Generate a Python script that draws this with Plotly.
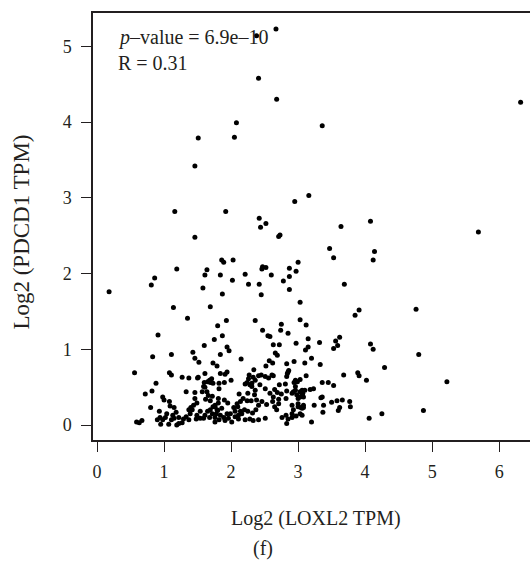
import plotly.graph_objects as go

# Log2 (LOXL2 TPM)
x_vals = [
    2.67, 2.38, 2.41, 2.68, 2.08, 3.36, 1.51, 2.05, 1.46, 6.32, 3.16, 2.95, 4.08, 3.64, 5.69, 3.47, 3.53, 4.14, 4.12, 3.00,
    2.97, 3.69, 3.03, 3.91, 3.85, 4.76, 3.03, 3.12, 3.62, 3.56, 3.53, 3.59, 3.15, 3.32, 2.97, 3.11, 3.15, 4.08, 4.12, 4.80,
    3.20, 3.10, 3.33, 4.29, 3.68, 3.89, 3.91, 3.12, 4.02, 5.22, 2.94, 2.99, 3.03, 3.36, 3.45, 3.53, 2.96, 2.93, 3.06, 3.07,
    3.08, 3.18, 3.23, 2.98, 3.03, 3.34, 3.36, 3.00, 3.04, 3.08, 3.24, 3.38, 3.50, 3.58, 3.66, 3.77, 3.62, 3.60, 3.78, 3.37,
    2.91, 2.97, 3.06, 3.20, 4.06, 4.25, 4.87,
    1.16, 1.92, 2.42, 2.44, 2.52, 1.46, 2.71, 2.73, 0.18, 0.81, 0.86, 1.19, 1.14, 1.58, 1.61, 1.64, 1.69, 1.84, 1.87, 1.86,
    1.89, 2.03, 2.02, 2.21, 2.26, 2.42, 2.45, 2.47, 2.46, 2.52, 2.60, 2.78, 2.87, 2.87, 2.87,
    1.35, 1.80, 1.93, 2.36, 2.47, 2.55, 2.74, 2.75, 2.85, 0.91, 1.87, 1.75,
    0.83, 1.11, 0.56, 1.43, 1.46, 1.52, 1.60, 1.08, 1.11, 1.27, 1.37, 1.50, 1.61, 1.73, 1.79, 1.73, 1.69, 0.88, 0.72, 0.82,
    1.33, 0.98, 1.00, 1.08, 1.46, 1.57, 1.59, 1.65, 0.80, 0.59, 0.63, 0.67, 0.93, 0.94, 0.90, 0.95, 1.04, 1.09, 1.15, 1.18,
    0.98, 1.02, 1.11, 1.07, 1.13, 1.15, 1.22, 1.22, 1.27, 1.19, 1.29, 1.33, 1.37, 1.39, 1.42, 1.44, 1.49, 1.46, 1.37, 1.40,
    1.49, 1.54, 1.48, 1.54, 1.59, 1.61, 1.65, 1.69, 1.73, 1.62, 1.66, 1.64, 1.61, 1.69, 1.72, 1.68, 1.72, 1.76, 1.78, 1.80,
    1.76, 1.76, 1.82, 1.82, 1.84,
    2.58, 2.72, 2.63, 1.94, 1.97, 1.84, 2.15, 2.66, 2.69, 2.57, 2.62, 2.52, 1.94, 1.91, 2.27, 2.26, 2.24, 2.21, 2.28, 2.34,
    2.45, 2.51, 2.56, 2.63, 2.00, 1.90, 1.82, 2.36, 2.43, 2.72, 2.81, 2.84, 2.86, 2.51, 2.58, 2.65, 2.69, 2.63, 2.71, 2.75,
    2.82, 2.83, 2.31, 2.36, 2.35, 2.38, 2.25, 2.30, 2.24, 2.18, 2.12, 2.14, 2.09, 2.46, 2.53, 2.62, 2.65, 2.68, 2.71, 2.41,
    2.37, 2.32, 2.25, 2.20, 2.16, 2.11, 2.21, 2.28, 2.33, 2.41, 2.51, 2.76, 2.82, 2.85, 2.91, 3.03, 2.83, 3.06, 3.00, 3.08,
    2.93, 2.91, 3.00, 3.06, 3.10, 3.03, 2.96, 2.91, 1.76, 1.81, 1.79, 1.86, 1.84, 1.89, 1.94, 1.96, 1.91, 2.01, 1.99, 2.06,
    2.04, 2.10, 2.14, 1.81, 1.90, 1.95, 2.11, 2.06, 2.31,
    1.68, 1.71, 1.60, 1.51, 2.33, 2.41, 2.61, 2.83, 2.85, 2.96, 2.94, 2.83,
]

# Log2 (PDCD1 TPM)
y_vals = [
    5.23, 5.14, 4.58, 4.30, 3.99, 3.95, 3.79, 3.80, 3.42, 4.26, 3.03, 2.95, 2.69, 2.62, 2.55, 2.33, 2.21, 2.29, 2.18, 2.15,
    2.03, 1.86, 1.62, 1.52, 1.45, 1.53, 1.39, 1.32, 1.16, 1.11, 1.01, 1.05, 1.14, 1.09, 1.08, 0.99, 1.03, 1.07, 1.00, 0.93,
    0.88, 0.82, 0.80, 0.76, 0.66, 0.69, 0.65, 0.65, 0.59, 0.57, 0.56, 0.57, 0.60, 0.56, 0.56, 0.52, 0.51, 0.44, 0.46, 0.42,
    0.37, 0.47, 0.48, 0.40, 0.37, 0.36, 0.37, 0.28, 0.23, 0.23, 0.26, 0.26, 0.30, 0.32, 0.33, 0.31, 0.23, 0.19, 0.24, 0.17,
    0.15, 0.12, 0.13, 0.04, 0.09, 0.15, 0.19,
    2.82, 2.82, 2.73, 2.61, 2.66, 2.48, 2.49, 2.51, 1.76, 1.85, 1.94, 2.06, 1.55, 1.81, 1.98, 2.05, 1.56, 1.98, 1.73, 2.18,
    2.15, 2.18, 1.91, 1.99, 1.86, 1.86, 1.72, 2.09, 2.06, 2.08, 1.98, 1.90, 1.96, 2.07, 1.79,
    1.41, 1.31, 1.38, 1.38, 1.25, 1.18, 1.25, 1.33, 1.21, 1.19, 1.18, 1.13,
    0.90, 0.93, 0.69, 0.96, 0.88, 0.83, 1.05, 0.69, 0.66, 0.63, 0.62, 0.62, 0.68, 0.82, 0.78, 0.55, 0.56, 0.55, 0.41, 0.45,
    0.44, 0.37, 0.33, 0.31, 0.43, 0.44, 0.51, 0.57, 0.23, 0.04, 0.03, 0.06, 0.18, 0.10, 0.07, 0.01, 0.15, 0.25, 0.23, 0.17,
    0.07, 0.10, 0.07, 0.01, 0.13, 0.09, 0.10, 0.02, 0.03, 0.00, 0.08, 0.11, 0.07, 0.15, 0.20, 0.26, 0.29, 0.35, 0.20, 0.23,
    0.13, 0.18, 0.08, 0.09, 0.09, 0.13, 0.18, 0.20, 0.24, 0.34, 0.39, 0.44, 0.50, 0.32, 0.38, 0.10, 0.15, 0.10, 0.15, 0.19,
    0.24, 0.04, 0.07, 0.55, 0.68,
    1.17, 1.06, 1.06, 1.03, 0.98, 0.93, 0.87, 0.95, 0.92, 0.85, 0.82, 0.78, 0.70, 0.67, 0.66, 0.61, 0.56, 0.54, 0.53, 0.73,
    0.66, 0.64, 0.62, 0.65, 0.59, 0.56, 0.48, 0.59, 0.53, 0.53, 0.54, 0.68, 0.72, 0.48, 0.42, 0.47, 0.43, 0.37, 0.34, 0.41,
    0.35, 0.45, 0.51, 0.46, 0.40, 0.33, 0.42, 0.32, 0.32, 0.35, 0.41, 0.31, 0.28, 0.31, 0.27, 0.31, 0.24, 0.20, 0.28, 0.26,
    0.20, 0.16, 0.18, 0.20, 0.15, 0.13, 0.07, 0.08, 0.06, 0.07, 0.09, 0.10, 0.13, 0.08, 0.10, 0.15, 0.02, 0.22, 0.24, 0.26,
    0.20, 0.26, 0.35, 0.40, 0.46, 0.44, 0.46, 0.42, 0.26, 0.29, 0.20, 0.22, 0.13, 0.10, 0.15, 0.09, 0.06, 0.04, 0.15, 0.18,
    0.23, 0.24, 0.18, 0.35, 0.33, 0.29, 0.08, 0.11, 0.55,
    0.59, 0.61, 0.56, 0.63, 0.63, 0.65, 0.66, 0.64, 0.70, 0.59, 0.84, 0.81,
]

x_ticks = [0, 1, 2, 3, 4, 5, 6]
y_ticks = [0, 1, 2, 3, 4, 5]
x_title = "Log2 (LOXL2 TPM)"
y_title = "Log2 (PDCD1 TPM)"
stat_lines = ["<i>p</i>\u2013value = 6.9e\u201310", "R = 0.31"]
panel_label = "(f)"

FONT = "Liberation Serif"
TXT = "#231f20"

fig = go.Figure(go.Scatter(
    x=x_vals, y=y_vals, mode="markers",
    marker=dict(size=5, color="#000000", line=dict(width=0)),
    showlegend=False, hoverinfo="skip",
))

axis_common = dict(
    showgrid=False, zeroline=False, showline=True, linecolor=TXT, linewidth=1.5,
    ticks="outside", ticklen=10, tickwidth=1.2, tickcolor=TXT,
    tickfont=dict(family=FONT, size=18, color=TXT),
)
fig.update_xaxes(range=[-0.06, 6.46], tickvals=x_ticks, mirror=True,
                 ticklabelstandoff=5, **axis_common)
fig.update_yaxes(range=[-0.198, 5.44], tickvals=y_ticks,
                 ticklabelstandoff=6, **axis_common)

ann_font = dict(family=FONT, size=20, color=TXT)
annotations = [
    dict(text=stat_lines[0], x=0.052, y=0.942, xref="paper", yref="paper",
         xanchor="left", yanchor="middle", showarrow=False, font=ann_font),
    dict(text=stat_lines[1], x=0.052, y=0.883, xref="paper", yref="paper",
         xanchor="left", yanchor="middle", showarrow=False, font=ann_font),
    dict(text=x_title, x=0.511, y=-0.185, xref="paper", yref="paper",
         xanchor="center", yanchor="middle", showarrow=False, font=ann_font),
    dict(text=panel_label, x=0.389, y=-0.253, xref="paper", yref="paper",
         xanchor="center", yanchor="middle", showarrow=False, font=ann_font),
    dict(text=y_title, x=-0.163, y=0.4875, xref="paper", yref="paper",
         xanchor="center", yanchor="middle", showarrow=False, textangle=-90,
         font=dict(family=FONT, size=23, color=TXT)),
]

fig.update_layout(
    width=530, height=564,
    margin=dict(l=93, r=0, t=13, b=124),
    paper_bgcolor="white", plot_bgcolor="white",
    font=dict(family=FONT, color=TXT),
    annotations=annotations,
)

fig.write_html("out.html")
